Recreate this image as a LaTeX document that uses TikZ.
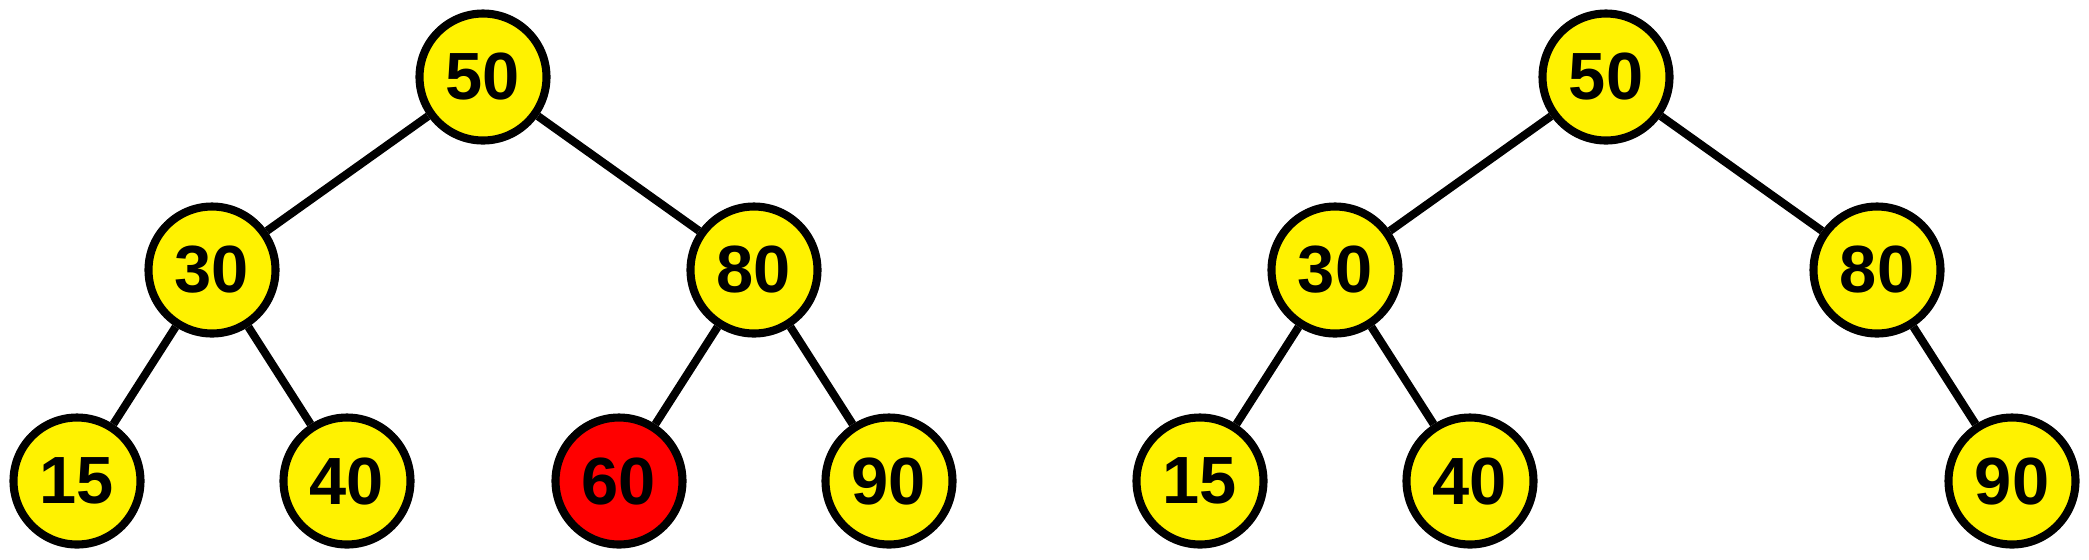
\documentclass[tikz,border=0pt]{standalone}
\usepackage{fontspec}
\setmainfont{Liberation Sans}
\usepackage{tikz}
\usetikzlibrary{positioning}

\begin{document}
\begin{tikzpicture}[
  key/.style={circle, draw=black, line width=2.3pt, fill=yellow, minimum size=1.27cm, inner sep=0pt,
    font=\fontsize{19}{20}\selectfont\bfseries},
  hit/.style={key, fill=red},
  link/.style={draw=black, line width=2.3pt}]
  \useasboundingbox (0,0) rectangle (20.89,-5.59);
  % left tree: before deleting 60
  \node[key] (a50) at (4.83,-0.77) {50};
  \node[key] (a30) at (2.12,-2.70) {30};
  \node[key] (a80) at (7.54,-2.70) {80};
  \node[key] (a15) at (0.77,-4.81) {15};
  \node[key] (a40) at (3.47,-4.81) {40};
  \node[hit] (a60) at (6.19,-4.81) {60};
  \node[key] (a90) at (8.89,-4.81) {90};
  \draw[link] (a50) -- (a30);
  \draw[link] (a50) -- (a80);
  \draw[link] (a30) -- (a15);
  \draw[link] (a30) -- (a40);
  \draw[link] (a80) -- (a60);
  \draw[link] (a80) -- (a90);
  % right tree: after
  \node[key] (b50) at (16.06,-0.77) {50};
  \node[key] (b30) at (13.35,-2.70) {30};
  \node[key] (b80) at (18.77,-2.70) {80};
  \node[key] (b15) at (12.00,-4.81) {15};
  \node[key] (b40) at (14.70,-4.81) {40};
  \node[key] (b90) at (20.12,-4.81) {90};
  \draw[link] (b50) -- (b30);
  \draw[link] (b50) -- (b80);
  \draw[link] (b30) -- (b15);
  \draw[link] (b30) -- (b40);
  \draw[link] (b80) -- (b90);
\end{tikzpicture}
\end{document}
